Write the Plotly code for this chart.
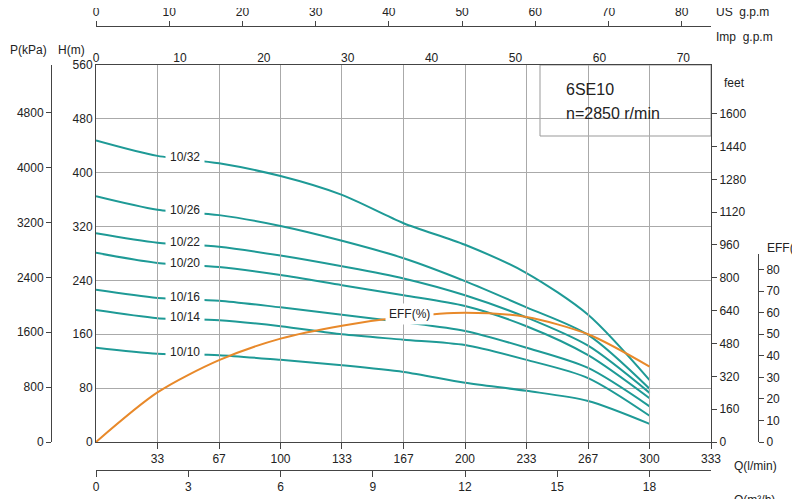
import numpy as np
import plotly.graph_objects as go

Q_LPM = [0, 33.3, 66.7, 100, 133.3, 166.7, 200, 233.3, 266.7, 300]
CURVES = {
    "10/32": [448, 425, 414, 395, 367, 325, 293, 251, 189, 92],
    "10/26": [365, 345, 337, 321, 299, 273, 239, 200, 159, 79],
    "10/22": [310, 296, 290, 277, 261, 243, 218, 185, 143, 73],
    "10/20": [281, 266, 260, 248, 233, 218, 202, 172, 129, 65],
    "10/16": [226, 214, 210, 200, 189, 178, 165, 140, 110, 53],
    "10/14": [196, 184, 181, 172, 160, 152, 144, 122, 95, 39],
    "10/10": [140, 131, 129, 122, 114, 104, 88, 76, 61, 27],
}
EFF = [0, 23, 38, 48, 54, 58, 60, 58, 50, 35]
LPM_TICKS = [33.3, 66.7, 100, 133.3, 166.7, 200, 233.3, 266.7, 300, 333.3]
LPM_TEXT = ["33", "67", "100", "133", "167", "200", "233", "267", "300", "333"]

TEAL = "#1e9a96"
ORANGE = "#e8892a"
FONT = "Liberation Sans, Arial, sans-serif"

W, H = 800, 499
ML, MR, MT, MB = 43, 50, 18, 37
PW, PH = W - ML - MR, H - MT - MB
def px(x): return (x - ML) / PW
def py(y): return (H - MB - y) / PH
xd = [px(88), px(703)]
yd = [py(434), py(57)]

fig = go.Figure()
# invisible anchors so that every secondary axis is drawn
for xa, ya in [("x2", "y"), ("x3", "y"), ("x4", "y"), ("x", "y2"), ("x", "y3")]:
    fig.add_trace(go.Scatter(x=[None], y=[None], xaxis=xa, yaxis=ya, showlegend=False, hoverinfo="skip"))
for name, vals in CURVES.items():
    fig.add_trace(go.Scatter(x=Q_LPM, y=vals, mode="lines", line=dict(color=TEAL, width=2, shape="spline", smoothing=0.8),
                             xaxis="x", yaxis="y", showlegend=False, hoverinfo="skip"))
fig.add_trace(go.Scatter(x=Q_LPM, y=EFF, mode="lines", line=dict(color=ORANGE, width=2, shape="spline", smoothing=0.8),
                         xaxis="x", yaxis="y4", showlegend=False, hoverinfo="skip"))

ann = []
for name, vals in CURVES.items():
    yv = float(np.interp(48, Q_LPM, vals)) + 3
    ann.append(dict(x=48, y=yv, xref="x", yref="y", text=name, showarrow=False, bgcolor="white",
                    borderpad=4, font=dict(size=12, color="#222")))
ann.append(dict(x=170, y=float(np.interp(170, Q_LPM, EFF)) + 1, xref="x", yref="y4", text="EFF(%)", showarrow=False,
                bgcolor="white", borderpad=3, font=dict(size=12, color="#222")))
def lab(x, y, t, xa="left", size=12):
    ann.append(dict(x=px(x), y=py(y), xref="paper", yref="paper", text=t, showarrow=False, xanchor=xa, yanchor="middle",
                    font=dict(size=size, color="#222")))
lab(706, 4, "US  g.p.m")
lab(706, 29, "Imp  g.p.m")
lab(0, 42, "P(kPa)")
lab(48, 42, "H(m)")
lab(714, 75, "feet")
lab(757, 240, "EFF(%)")
lab(724, 458, "Q(l/min)")
lab(724, 492, "Q(m³/h)")
lab(556, 82, "6SE10", size=16)
lab(556, 105, "n=2850 r/min", size=16)

ticks_common = dict(tickfont=dict(size=12, color="#222", family=FONT), linecolor="#444", showgrid=False, zeroline=False)
fig.update_layout(
    width=W, height=H, margin=dict(l=ML, r=MR, t=MT, b=MB, autoexpand=False),
    plot_bgcolor="rgba(0,0,0,0)", paper_bgcolor="white",
    font=dict(family=FONT), annotations=ann,
    shapes=[dict(type="rect", xref="paper", yref="paper", x0=px(532), x1=px(703), y0=py(128), y1=py(57),
                 fillcolor="white", line=dict(color="#999", width=1), layer="below")],
    xaxis=dict(domain=xd, range=[0, 333.3], tickvals=LPM_TICKS, ticktext=LPM_TEXT, showgrid=True, gridcolor="#aaa",
               showline=True, mirror=True, linecolor="#444", ticks="outside", ticklen=6, tickcolor="#444",
               zeroline=False, tickfont=dict(size=12, color="#222")),
    xaxis2=dict(overlaying="x", side="top", anchor="y", range=[0, 73.3], dtick=10, showline=False, ticks="",
                tickfont=dict(size=12, color="#222"), showgrid=False, zeroline=False),
    xaxis3=dict(overlaying="x", side="top", anchor="free", position=1, range=[0, 84], dtick=10, showline=True, ticks="outside", ticklen=5, **ticks_common),
    xaxis4=dict(overlaying="x", side="bottom", anchor="free", position=0, range=[0, 20], tickvals=[0, 3, 6, 9, 12, 15, 18],
                showline=True, ticks="outside", ticklen=6, **ticks_common),
    yaxis=dict(domain=yd, range=[0, 560], dtick=80, showgrid=True, gridcolor="#aaa", showline=True, mirror=True,
               linecolor="#444", zeroline=False, ticks="", tickfont=dict(size=12, color="#222")),
    yaxis2=dict(overlaying="y", side="left", anchor="free", position=0, range=[0, 5494], tickvals=list(range(0, 4801, 800)),
                showline=True, ticks="outside", ticklen=5, **ticks_common),
    yaxis3=dict(overlaying="y", side="right", anchor="x", range=[0, 1837], tickvals=list(range(0, 1601, 160)),
                showline=False, ticks="outside", ticklen=5, **ticks_common),
    yaxis4=dict(domain=[yd[0], yd[0] + 0.5 * (yd[1] - yd[0])], side="right", anchor="free", position=1, range=[0, 87.5],
                dtick=10, showline=True, ticks="outside", ticklen=5, **ticks_common),
)
fig.write_html("out.html")
